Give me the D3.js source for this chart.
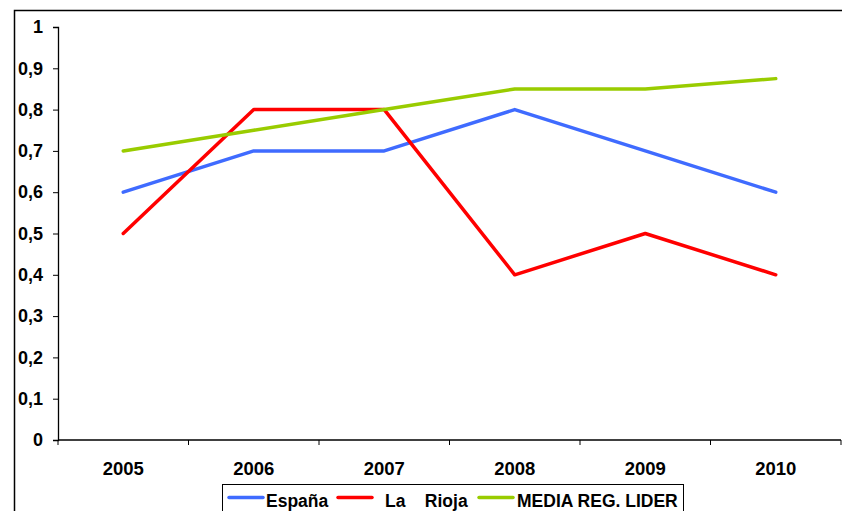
<!DOCTYPE html>
<html>
<head>
<meta charset="utf-8">
<script src="https://cdn.jsdelivr.net/npm/d3@7"></script>
<style>
  body { margin: 0; background: #fff; }
  svg { display: block; }
  svg text { font-family: "Liberation Sans", Arial, sans-serif; font-weight: bold; fill: #000; }
</style>
</head>
<body>
<svg id="chart" width="842" height="511"></svg>
<script>
// data
var years = ["2005", "2006", "2007", "2008", "2009", "2010"];
var espana = [0.6, 0.7, 0.7, 0.8, 0.7, 0.6];
var rioja = [0.5, 0.8, 0.8, 0.4, 0.5, 0.4];
var media = [0.7, 0.75, 0.8, 0.85, 0.85, 0.875];
var yTicks = [0, 0.1, 0.2, 0.3, 0.4, 0.5, 0.6, 0.7, 0.8, 0.9, 1];

var series = [
  { name: "España", values: espana, color: "#3f6bff" },
  { name: "La    Rioja", values: rioja, color: "#ff0000" },
  { name: "MEDIA REG. LIDER", values: media, color: "#99cc00" }
];

const MARGIN = { LEFT: 58, RIGHT: 1, TOP: 27, BOTTOM: 71 };
var width = 842, height = 511;

let svg = d3.select("#chart");

// outer frame (runs off the right and bottom edges)
svg.append("rect")
  .attr("x", 14.5).attr("y", 10.5)
  .attr("width", 900).attr("height", 600)
  .attr("fill", "none").attr("stroke", "#000").attr("stroke-width", 1.5);

let xScale = d3.scaleBand()
  .domain(years)
  .range([MARGIN.LEFT, width - MARGIN.RIGHT]);

let yScale = d3.scaleLinear()
  .domain([0, 1])
  .range([height - MARGIN.BOTTOM, MARGIN.TOP]);

// y axis
let yAxis = d3.axisLeft(yScale)
  .tickValues(yTicks)
  .tickSize(5)
  .tickPadding(10)
  .tickFormat(d => (d === 0 || d === 1) ? String(d) : d3.format(".1f")(d).replace(".", ","));

svg.append("g")
  .attr("transform", `translate(${MARGIN.LEFT},0)`)
  .call(yAxis)
  .call(g => g.selectAll("text").style("font-size", "18px"))
  .call(g => g.select(".domain").attr("stroke-width", 1.3));

// x axis with ticks between categories
let xAxisG = svg.append("g")
  .attr("transform", "translate(0," + yScale(0) + ")");
xAxisG.append("line")
  .attr("x1", MARGIN.LEFT).attr("x2", width - MARGIN.RIGHT)
  .attr("stroke", "#000").attr("stroke-width", 1.3);
var bounds = years.map(d => xScale(d)).concat([xScale.range()[1]]);
xAxisG.selectAll(".xtick")
  .data(bounds)
  .enter().append("line")
  .attr("x1", d => d).attr("x2", d => d)
  .attr("y1", 0).attr("y2", 5)
  .attr("stroke", "#000");
xAxisG.selectAll(".xlabel")
  .data(years)
  .enter().append("text")
  .attr("x", d => xScale(d) + xScale.bandwidth() / 2)
  .attr("y", 34.5)
  .attr("text-anchor", "middle")
  .style("font-size", "18.5px")
  .text(d => d);

// lines
let line = d3.line()
  .x((d, i) => xScale(years[i]) + xScale.bandwidth() / 2)
  .y(d => yScale(d));

svg.selectAll(".series")
  .data(series)
  .enter().append("path")
  .attr("d", d => line(d.values))
  .attr("fill", "none")
  .attr("stroke", d => d.color)
  .attr("stroke-width", 3.5)
  .attr("stroke-linejoin", "round")
  .attr("stroke-linecap", "round");

// legend
let legend = svg.append("g");
legend.append("rect")
  .attr("x", 222.5).attr("y", 484.5)
  .attr("width", 461).attr("height", 40)
  .attr("fill", "#fff").attr("stroke", "#000").attr("stroke-width", 1);

var legendX = [229, 338, 479];
var legendTextX = [266, 385, 517];
series.forEach(function (s, i) {
  legend.append("line")
    .attr("x1", legendX[i]).attr("x2", legendX[i] + 34)
    .attr("y1", 497.5).attr("y2", 497.5)
    .attr("stroke", s.color).attr("stroke-width", 3.5)
    .attr("stroke-linecap", "round");
  legend.append("text")
    .attr("x", legendTextX[i]).attr("y", 507)
    .attr("xml:space", "preserve")
    .style("white-space", "pre")
    .style("font-size", "17.5px")
    .text(s.name);
});
</script>
</body>
</html>
